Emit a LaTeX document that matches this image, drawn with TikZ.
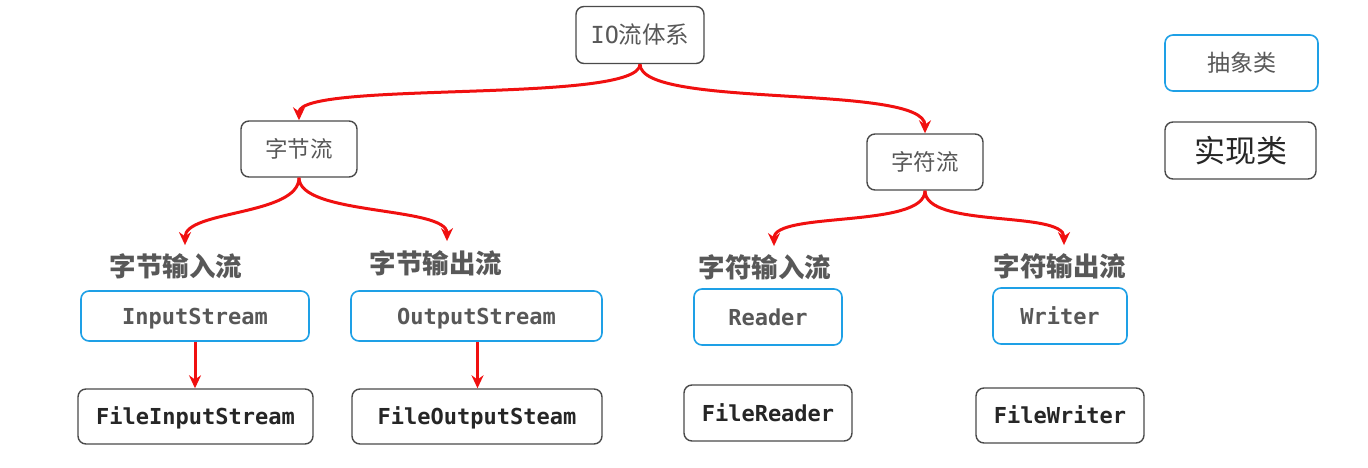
\documentclass[tikz,border=0pt]{standalone}
\usepackage{fontspec}
\setmonofont{DejaVu Sans Mono}
\newfontfamily\cjk{Noto Sans CJK SC}
\usetikzlibrary{arrows.meta}
\definecolor{boxgray}{HTML}{4A4A4A}
\definecolor{absblue}{HTML}{1EA0E6}
\definecolor{txtgray}{HTML}{585858}
\definecolor{txtdark}{HTML}{262626}
\definecolor{arrred}{HTML}{F01010}
\tikzset{
  gbox/.style={draw=boxgray, line width=1.4pt, rounded corners=8pt, fill=white, inner sep=0pt},
  bbox/.style={draw=absblue, line width=1.6pt, rounded corners=8pt, fill=white, inner sep=0pt},
  cjktxt/.style={text=txtgray, font=\cjk\fontsize{22.5}{26}\selectfont},
  clsabs/.style={text=txtgray, font=\ttfamily\bfseries\fontsize{22}{26}\selectfont, text height=16pt, text depth=0pt},
  clsimpl/.style={text=txtdark, font=\ttfamily\bfseries\fontsize{22}{26}\selectfont, text height=16pt, text depth=0pt},
  lbl/.style={text=txtgray, font=\cjk\bfseries\fontsize{26.5}{30}\selectfont, inner sep=2pt},
  redarr/.style={draw=arrred, line width=3pt, -{Stealth[length=13pt,width=12pt]}},
}
\begin{document}
\begin{tikzpicture}[x=1pt,y=-1pt]
\useasboundingbox (0,0) rectangle (1368,468);
% upper nodes
\node[gbox, cjktxt, font=\cjk\fontsize{23.5}{27}\selectfont, minimum width=128pt, minimum height=57pt] (io) at (640,35) {{\ttfamily IO}流体系};
\node[gbox, cjktxt, minimum width=116pt, minimum height=56pt] (zj) at (299,149) {字节流};
\node[gbox, cjktxt, minimum width=116pt, minimum height=56pt] (zf) at (925,162) {字符流};
% labels
\node[lbl] (l1) at (176,266) {字节输入流};
\node[lbl] (l2) at (436,263) {字节输出流};
\node[lbl] (l3) at (765,267) {字符输入流};
\node[lbl] (l4) at (1060,266) {字符输出流};
% abstract classes
\node[bbox, clsabs, minimum width=228pt, minimum height=50pt] (is) at (195,316) {InputStream};
\node[bbox, clsabs, minimum width=251pt, minimum height=50pt] (os) at (476.5,316) {OutputStream};
\node[bbox, clsabs, minimum width=148pt, minimum height=56pt] (rd) at (768,317) {Reader};
\node[bbox, clsabs, minimum width=134pt, minimum height=56pt] (wr) at (1060,316) {Writer};
% implementations
\node[gbox, clsimpl, minimum width=235pt, minimum height=55pt] (fis) at (195.5,416.5) {FileInputStream};
\node[gbox, clsimpl, minimum width=250pt, minimum height=55pt] (fos) at (477,416.5) {FileOutputSteam};
\node[gbox, clsimpl, minimum width=168pt, minimum height=56pt] (frd) at (768,413) {FileReader};
\node[gbox, clsimpl, minimum width=168pt, minimum height=55pt] (fwr) at (1060,415.5) {FileWriter};
% legend
\node[bbox, cjktxt, font=\cjk\fontsize{23}{27}\selectfont, minimum width=153pt, minimum height=56pt] (abs) at (1241.5,63) {抽象类};
\node[gbox, text=txtdark, font=\cjk\fontsize{31}{35}\selectfont, minimum width=151pt, minimum height=57pt] (impl) at (1240.5,150.5) {实现类};
% curved arrows
\draw[redarr] (io.south) .. controls +(0,40) and +(0,-40) .. (zj.north);
\draw[redarr] (io.south) .. controls +(0,45) and +(0,-50) .. (zf.north);
\draw[redarr] (zj.south) .. controls +(0,38) and +(0,-35) .. ([xshift=9pt,yshift=6pt]l1.north);
\draw[redarr] (zj.south) .. controls +(0,38) and +(0,-35) .. ([xshift=11pt,yshift=7pt]l2.north);
\draw[redarr] (zf.south) .. controls +(0,38) and +(0,-35) .. ([xshift=9pt,yshift=6pt]l3.north);
\draw[redarr] (zf.south) .. controls +(0,38) and +(0,-35) .. ([xshift=4pt,yshift=6pt]l4.north);
% straight arrows
\draw[redarr] (is.south) -- (is.south |- fis.north);
\draw[redarr] ([xshift=1pt]os.south) -- ([xshift=1pt]os.south |- fos.north);
\end{tikzpicture}
\end{document}
